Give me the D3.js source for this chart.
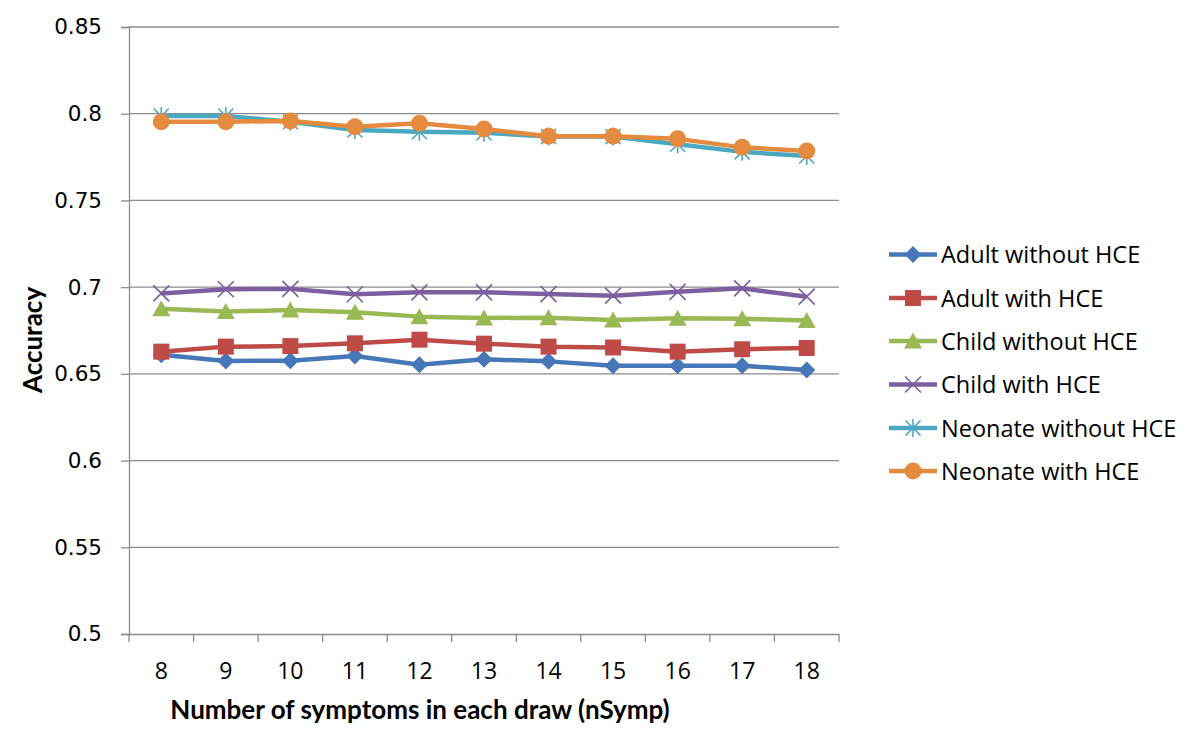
<!DOCTYPE html>
<html><head><meta charset="utf-8">
<script src="https://cdn.jsdelivr.net/npm/d3@7"></script>
<style>body{margin:0;background:#fff}svg{display:block}</style>
</head><body>
<svg id="chart" width="1200" height="742"></svg>
<script>
const categories = [8, 9, 10, 11, 12, 13, 14, 15, 16, 17, 18];
const yTicks = [0.5, 0.55, 0.6, 0.65, 0.7, 0.75, 0.8, 0.85];
const seriesNames = ["Adult without HCE", "Adult with HCE", "Child without HCE", "Child with HCE", "Neonate without HCE", "Neonate with HCE"];
const adultWithout = [0.661, 0.6574, 0.6576, 0.6603, 0.6553, 0.6584, 0.6572, 0.6547, 0.6547, 0.6547, 0.6522];
const adultWith = [0.6628, 0.6657, 0.666, 0.6676, 0.6697, 0.6674, 0.6657, 0.6652, 0.6628, 0.6642, 0.6649];
const childWithout = [0.6876, 0.6859, 0.6868, 0.6855, 0.683, 0.6822, 0.6824, 0.6811, 0.6821, 0.6818, 0.6808];
const childWith = [0.6964, 0.6988, 0.699, 0.6959, 0.697, 0.697, 0.696, 0.6951, 0.6973, 0.6993, 0.6945];
const neonateWithout = [0.7987, 0.7987, 0.7954, 0.7906, 0.7896, 0.789, 0.7868, 0.7868, 0.7824, 0.778, 0.7756];
const neonateWith = [0.7954, 0.7954, 0.7958, 0.7925, 0.7945, 0.7912, 0.787, 0.787, 0.7855, 0.7806, 0.7785];
const seriesValues = [adultWithout, adultWith, childWithout, childWith, neonateWithout, neonateWith];
const colors = ["#4677B8", "#BE4B48", "#98B954", "#7D5FA0", "#4AA8C0", "#E48B3F"];
const markers = ["diamond", "square", "triangle", "x", "star", "circle"];

const svg = d3.select("#chart");
const pLeft = 129, pRight = 839, pTop = 27, pBottom = 634;
const x = d3.scaleBand().domain(categories).range([pLeft, pRight]);
const y = d3.scaleLinear().domain([0.5, 0.85]).range([pBottom, pTop]);
const gray = "#8c8c8c";

// gridlines
svg.append("g").selectAll("line").data(yTicks.slice(1)).join("line")
  .attr("x1", pLeft).attr("x2", pRight)
  .attr("y1", d => y(d)).attr("y2", d => y(d))
  .attr("stroke", gray).attr("stroke-width", 1.3);

// y axis
const yAxis = svg.append("g").attr("transform", `translate(${pLeft},0)`)
  .call(d3.axisLeft(y).tickValues(yTicks).tickSize(8).tickPadding(19).tickFormat(d => String(+d.toFixed(2))));
yAxis.select(".domain").attr("stroke", gray).attr("stroke-width", 1.3);
yAxis.selectAll(".tick line").attr("stroke", gray).attr("stroke-width", 1.3);
yAxis.selectAll("text").attr("font-family", "DejaVu Sans").attr("font-size", 21.5).attr("fill", "#000");

// x axis
const xAxis = svg.append("g").attr("transform", `translate(0,${pBottom})`)
  .call(d3.axisBottom(x).tickSize(0));
xAxis.select(".domain").attr("stroke", gray).attr("stroke-width", 1.3);
xAxis.selectAll("text").attr("y", 45).attr("dy", 0)
  .attr("font-family", "Open Sans").attr("font-size", 23).attr("fill", "#000");
const bounds = categories.map(c => x(c)).concat([pRight]);
svg.append("g").selectAll("line").data(bounds).join("line")
  .attr("x1", d => d).attr("x2", d => d).attr("y1", pBottom).attr("y2", pBottom + 8)
  .attr("stroke", gray).attr("stroke-width", 1.3);

// axis titles
svg.append("text").attr("x", 420).attr("y", 719).attr("text-anchor", "middle")
  .attr("font-family", "Lato").attr("font-weight", "bold").attr("font-size", 26)
  .text("Number of symptoms in each draw (nSymp)");
svg.append("text").attr("transform", "translate(42,340) rotate(-90)").attr("text-anchor", "middle")
  .attr("font-family", "Lato").attr("font-weight", "bold").attr("font-size", 26)
  .text("Accuracy");

const cx = d => x(d) + x.bandwidth() / 2;
function drawMarker(g, type, color) {
  if (type === "diamond") g.append("path").attr("d", "M0,-8.5L8.5,0L0,8.5L-8.5,0Z").attr("fill", color);
  else if (type === "square") g.append("rect").attr("x", -8).attr("y", -8).attr("width", 16).attr("height", 16).attr("fill", color);
  else if (type === "triangle") g.append("path").attr("d", "M0,-8.5L9,7.5L-9,7.5Z").attr("fill", color);
  else if (type === "circle") g.append("circle").attr("r", 8.5).attr("fill", color);
  else if (type === "x") g.append("path").attr("d", "M-8,-8L8,8M-8,8L8,-8").attr("stroke", color).attr("stroke-width", 1.6).attr("fill", "none");
  else if (type === "star") g.append("path").attr("d", "M-7.5,-7.5L7.5,7.5M-7.5,7.5L7.5,-7.5M0,-9L0,9").attr("stroke", color).attr("stroke-width", 1.6).attr("fill", "none");
}

const line = d3.line().x((d, i) => cx(categories[i])).y(d => y(d));
seriesValues.forEach((vals, si) => {
  const g = svg.append("g");
  g.append("path").attr("d", line(vals)).attr("fill", "none")
    .attr("stroke", colors[si]).attr("stroke-width", 4.5).attr("stroke-linejoin", "round");
  vals.forEach((v, i) => {
    const m = g.append("g").attr("transform", `translate(${cx(categories[i])},${y(v)})`);
    drawMarker(m, markers[si], colors[si]);
  });
});

// legend
const legendY = [254.5, 298, 341, 384.5, 428, 471];
seriesNames.forEach((name, si) => {
  const g = svg.append("g").attr("transform", `translate(0,${legendY[si]})`);
  g.append("line").attr("x1", 889).attr("x2", 937).attr("y1", 0).attr("y2", 0)
    .attr("stroke", colors[si]).attr("stroke-width", 4.5);
  const m = g.append("g").attr("transform", "translate(913,0)");
  drawMarker(m, markers[si], colors[si]);
  g.append("text").attr("x", 941).attr("y", 8.5)
    .attr("font-family", "Open Sans").attr("font-size", 23.5).attr("fill", "#000").text(name);
});
</script>
</body></html>
